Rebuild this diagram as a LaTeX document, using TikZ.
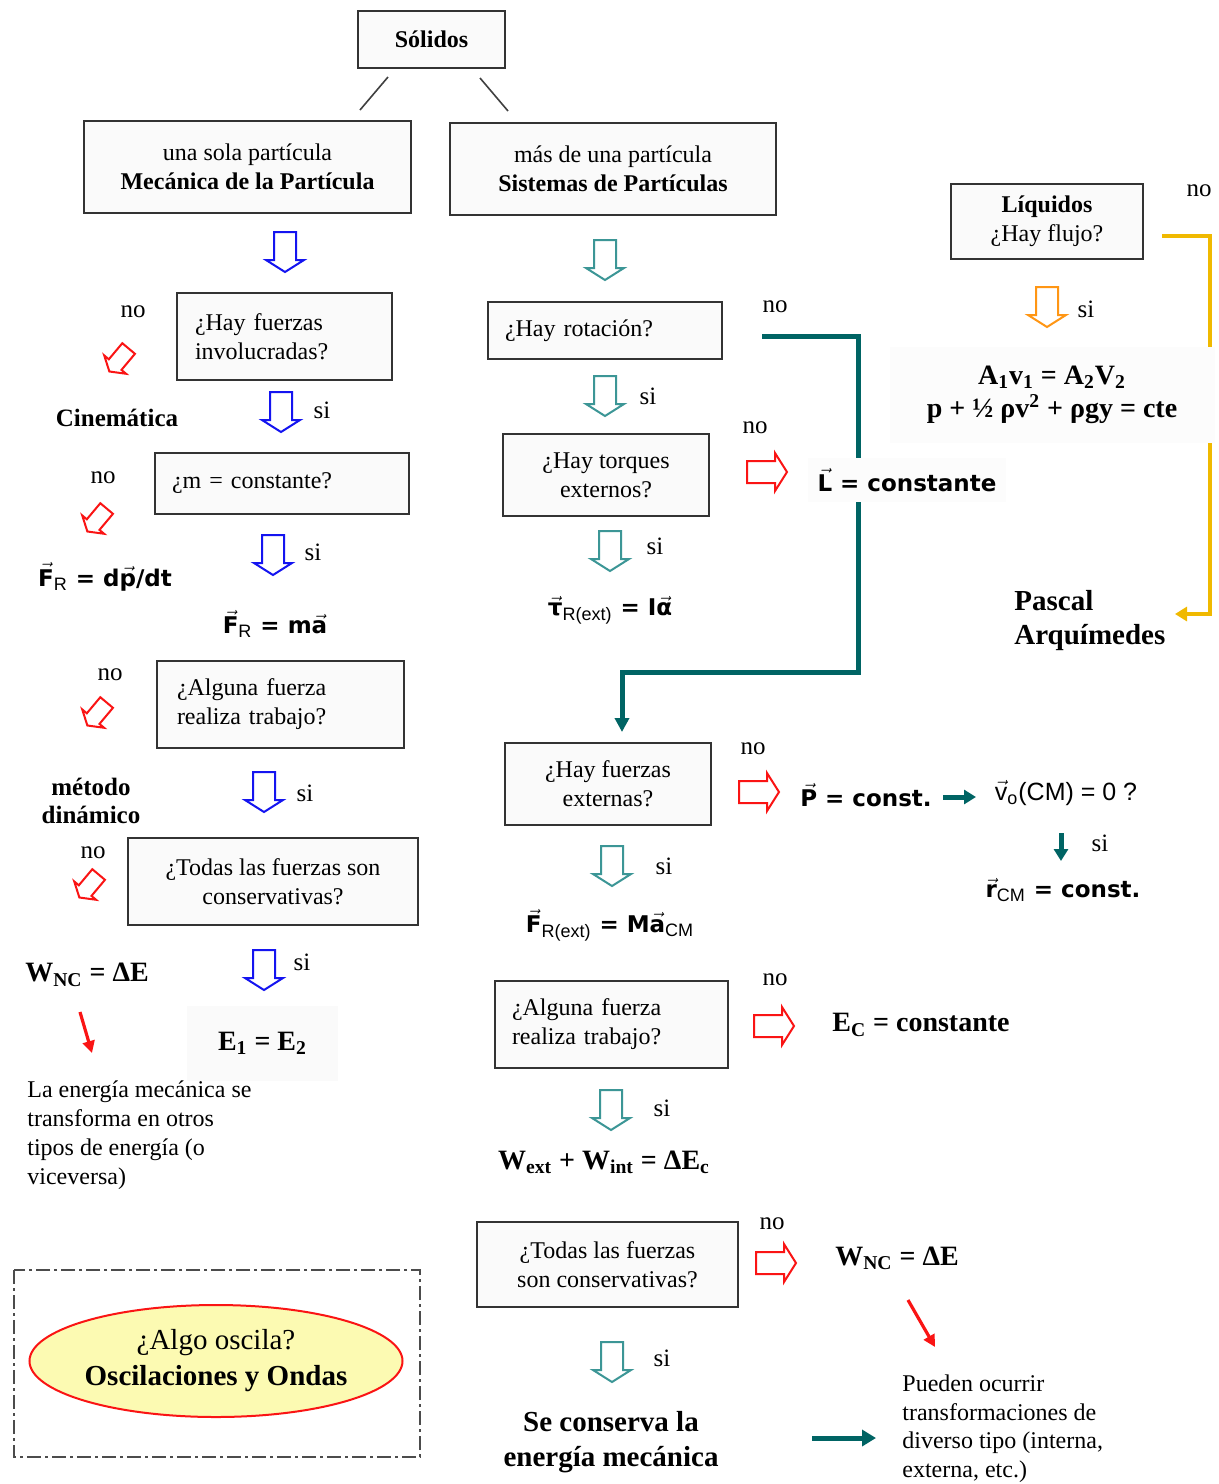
\documentclass[tikz,border=0pt]{standalone}
\usepackage{fontspec}
\setmainfont{Liberation Serif}
\newfontfamily\sfb{DejaVu Sans}
\newfontfamily\sfr{Liberation Sans}
\usetikzlibrary{arrows.meta,shapes.geometric}
\definecolor{myblue}{RGB}{20,20,240}
\definecolor{tealA}{RGB}{60,150,150}
\definecolor{tealL}{RGB}{0,100,100}
\definecolor{myred}{RGB}{250,20,20}
\definecolor{myorange}{RGB}{255,150,20}
\definecolor{gold}{RGB}{240,185,0}
\definecolor{ellfill}{RGB}{252,250,178}
\definecolor{boxfill}{RGB}{250,250,250}
\newcommand\vv[1]{\ensuremath{\vec{\hbox{#1}}}}
\newcommand\sbs[1]{\ensuremath{_{\hbox{\sfr\mdseries\fontsize{9}{9}\selectfont #1}}}}
\begin{document}
\begin{tikzpicture}[x=0.5pt,y=-0.5pt,
  box/.style={draw=black!80, line width=1pt, fill=boxfill, inner sep=0pt, align=center, font=\fontsize{12}{14.5}\selectfont},
  lbox/.style n args={2}{box, align=left, text width=#1, inner xsep=#2},
  lbl/.style={font=\fontsize{12.5}{14}\selectfont, inner sep=0pt},
  bft/.style={font=\fontsize{14}{17}\selectfont\bfseries, inner sep=1pt, align=center},
  sft/.style={font=\sfb\bfseries\fontsize{11.5}{14}\selectfont, inner sep=1pt},
  plain/.style={font=\fontsize{12}{14.5}\selectfont, inner sep=0pt, align=left},
  harrow/.pic={\draw[line width=1pt, fill=white, line join=miter, pic actions] (-11,-20)--(11,-20)--(11,8)--(19,8)--(0,20)--(-19,8)--(-11,8)--cycle;},
  solid arrow/.style={line width=1.6pt, -{Triangle[length=6pt,width=6pt]}}
]
\fill[white] (0,0) rectangle (1219,1484);
\useasboundingbox (0,0) rectangle (1219,1484);

% ---------- boxes ----------
\node[box, minimum width=73.5pt, minimum height=28.5pt] (sol) at (431.5,39.5) {\textbf{Sólidos}};
\node[box, minimum width=163.5pt, minimum height=46pt] (mec) at (247.5,167) {una sola partícula\\\textbf{Mecánica de la Partícula}};
\node[box, minimum width=163pt, minimum height=46pt] (sis) at (613,169) {más de una partícula\\\textbf{Sistemas de Partículas}};
\node[lbox={89.5pt}{9pt}, minimum height=43.5pt] (q1) at (284.5,336.5) {¿Hay fuerzas\\involucradas?};
\node[lbox={110pt}{8.5pt}, minimum height=30.5pt] (q2) at (282,483.5) {¿m = constante?};
\node[lbox={103.5pt}{10pt}, minimum height=43.5pt] (q3) at (280.5,704.5) {¿Alguna fuerza\\realiza trabajo?};
\node[box, minimum width=145pt, minimum height=43.5pt] (q4) at (273,881.5) {¿Todas las fuerzas son\\conservativas?};
\node[lbox={100pt}{8.5pt}, minimum height=28.5pt] (r1) at (605,330.5) {¿Hay rotación?};
\node[box, minimum width=103pt, minimum height=41pt] (r2) at (606,475) {¿Hay torques\\externos?};
\node[box, minimum width=103pt, minimum height=41pt] (r3) at (608,784) {¿Hay fuerzas\\externas?};
\node[lbox={99.5pt}{8.5pt}, minimum height=43.5pt] (r4) at (611.5,1024.5) {¿Alguna fuerza\\realiza trabajo?};
\node[box, minimum width=130.5pt, minimum height=42.5pt] (r5) at (607.5,1264.5) {¿Todas las fuerzas\\son conservativas?};
\node[box, minimum width=96pt, minimum height=37.5pt] (liq) at (1047,221.5) {\textbf{Líquidos}\\¿Hay flujo?};

% lines from Solidos
\coordinate (s1a) at (388,77); \coordinate (s1b) at (360,110);
\coordinate (s2a) at (480,78); \coordinate (s2b) at (508,111);
\draw[black!75, line width=0.8pt] (s1a) -- (s1b);
\draw[black!75, line width=0.8pt] (s2a) -- (s2b);

% ---------- hollow arrows ----------
\foreach \p in {(285,252),(281,412),(273,555),(264,792),(264,970)}
  \pic[draw=myblue] at \p {harrow};
\foreach \p in {(605,260),(605,396),(610,551),(612,866),(611,1110),(612,1362)}
  \pic[draw=tealA] at \p {harrow};
\pic[draw=myorange] at (1047,307) {harrow};
\foreach \p in {(767,472),(759,792),(774,1026),(776,1263)}
  \pic[draw=myred, rotate=90] at \p {harrow};
\foreach \p in {(119,360),(97,520),(97,714),(89,886)}
  \pic[draw=myred, rotate=-40, scale=0.75] at \p {harrow};

% ---------- no / si labels ----------
\foreach \n/\p in {n1/{(133,312)},n2/{(103,478)},n3/{(110,675)},n4/{(93,853)},n5/{(775,307)},n6/{(755,428)},n7/{(753,749)},n8/{(775,980)},n9/{(772,1224)},n10/{(1199,191)}}
  \node[lbl] (\n) at \p {no};
\foreach \n/\p in {y1/{(322,410)},y2/{(313,552)},y3/{(305,793)},y4/{(302,962)},y5/{(648,396)},y6/{(655,546)},y7/{(664,866)},y8/{(662,1108)},y9/{(662,1358)},y10/{(1086,309)},y11/{(1100,843)}}
  \node[lbl] (\n) at \p {si};

% ---------- long connectors ----------
\coordinate (t0) at (762,336); \coordinate (t1) at (622,732);
\draw[tealL, line width=2.5pt, -{Triangle[length=7pt,width=7pt]}] (t0) -- (858,336) -- (858,672) -- (622,672) -- (t1);
\coordinate (g0) at (1162,236); \coordinate (g1) at (1175,614);
\draw[gold, line width=2pt, -{Triangle[length=6pt,width=7pt]}] (g0) -- (1210,236) -- (1210,614) -- (g1);

% ---------- left column texts ----------
\node[bft, font=\fontsize{12.5}{14}\selectfont\bfseries] (cin) at (117,418) {Cinemática};
\node[sft] (frdp) at (105,577) {\vv{F}\sbs{R} = d\vv{p}/dt};
\node[sft] (frma) at (275,624) {\vv{F}\sbs{R} = m\vv{a}};
\node[bft, font=\fontsize{12.5}{14}\selectfont\bfseries] (metodo) at (91,801) {método\\dinámico};
\node[bft] (wnc1) at (87,975) {W\textsubscript{NC} = ΔE};
\node[bft, fill=black!2, minimum width=75.5pt, minimum height=37.5pt] (e12) at (262.5,1043) {E\textsubscript{1} = E\textsubscript{2}};
\node[plain, anchor=west] (laen) at (27,1135.5) {La energía mecánica se\\transforma en otros\\tipos de energía (o\\viceversa)};
\coordinate (ra0) at (80,1012); \coordinate (ra1) at (92,1053);
\draw[myred, solid arrow] (ra0) -- (ra1);

% Oscillation
\draw[black!70, line width=1pt, dash pattern=on 7pt off 2pt on 1.5pt off 2pt] (14,1270) rectangle (420,1457);
\node[ellipse, draw=myred, line width=1pt, fill=ellfill, minimum width=186.5pt, minimum height=56pt, inner sep=0pt] (osc) at (216,1361) {};
\node[font=\fontsize{14.5}{18}\selectfont, align=center, inner sep=0pt] (osct) at (osc.center) {¿Algo oscila?\\\textbf{Oscilaciones y Ondas}};

% ---------- middle column texts ----------
\node[sft, fill=black!1, inner xsep=5pt, inner ysep=5pt] (lc) at (907,480) {\vv{L} = constante};
\node[sft] (tau) at (610,610) {\vv{τ}\sbs{R(ext)} = I\vv{α}};
\node[sft] (pc) at (866,795) {\vv{P} = const.};
\node[font=\sfr\fontsize{12.5}{14}\selectfont, inner sep=1pt] (v0) at (1066,793) {\vv{v}\sbs{o}(CM) = 0 ?};
\node[sft] (rcm) at (1063,890) {\vv{r}\sbs{CM} = const.};
\coordinate (pa0) at (943,797); \coordinate (pa1) at (976,797);
\draw[tealL, line width=2.5pt, -{Triangle[length=6pt,width=7pt]}] (pa0) -- (pa1);
\coordinate (va0) at (1061,833); \coordinate (va1) at (1061,861);
\draw[tealL, line width=2.5pt, -{Triangle[length=6pt,width=7pt]}] (va0) -- (va1);
\node[sft] (frext) at (610,925) {\vv{F}\sbs{R(ext)} = M\vv{a}\sbs{CM}};
\node[bft] (ec) at (921,1025) {E\textsubscript{C} = constante};
\node[bft] (wext) at (604,1162) {W\textsubscript{ext} + W\textsubscript{int} = ΔE\textsubscript{c}};
\node[bft] (wnc2) at (897,1258) {W\textsubscript{NC} = ΔE};
\node[bft, font=\fontsize{14.5}{17.5}\selectfont\bfseries] (secons) at (611,1442) {Se conserva la\\energía mecánica};
\node[plain, anchor=west, font=\fontsize{12}{14.25}\selectfont] (pued) at (902,1428.5) {Pueden ocurrir\\transformaciones de\\diverso tipo (interna,\\externa, etc.)};
\coordinate (rb0) at (908,1300); \coordinate (rb1) at (935,1347);
\draw[myred, solid arrow] (rb0) -- (rb1);
\coordinate (sa0) at (812,1438); \coordinate (sa1) at (876,1438);
\draw[tealL, line width=2.5pt, -{Triangle[length=7pt,width=8pt]}] (sa0) -- (sa1);

% ---------- right column ----------
\node[bft, fill=black!1, minimum width=162.5pt, minimum height=48pt, font=\fontsize{14}{16.5}\selectfont\bfseries] (bern) at (1052,395) {A\textsubscript{1}v\textsubscript{1} = A\textsubscript{2}V\textsubscript{2}\\p + ½ ρv\textsuperscript{2} + ρgy = cte};
\node[bft, anchor=west, align=left, font=\fontsize{14.5}{17}\selectfont\bfseries] (pasc) at (1012,621) {Pascal\\Arquímedes};
\end{tikzpicture}
\end{document}
